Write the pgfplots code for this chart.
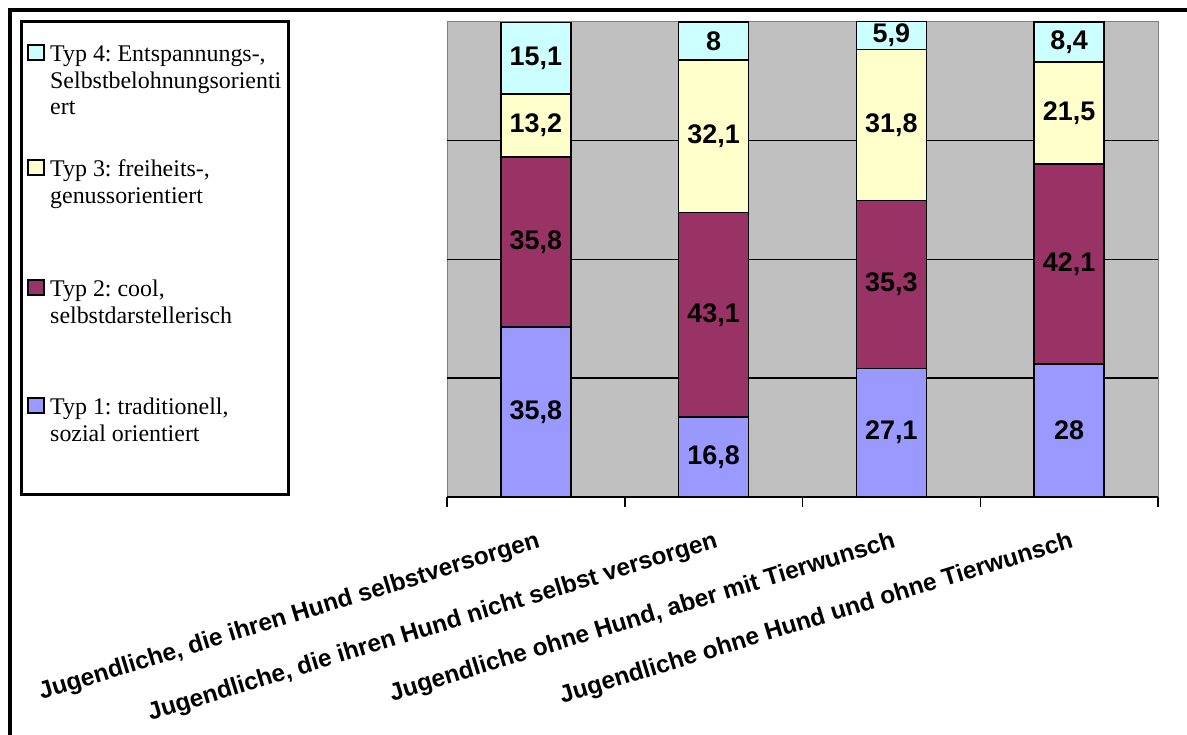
\documentclass[border=0pt]{standalone}
\usepackage{pgfplots}
\pgfplotsset{compat=1.18}
\usepackage{fontspec}
\setmainfont{Liberation Serif}
\newfontfamily\arial{Liberation Sans}
\definecolor{typA}{HTML}{9999FF}
\definecolor{typB}{HTML}{993366}
\definecolor{typC}{HTML}{FFFFCC}
\definecolor{typD}{HTML}{CCFFFF}
\definecolor{plotbg}{HTML}{C0C0C0}
\frenchspacing
\pgfplotsset{chartgeom/.style={
  at={(447bp,238bp)}, anchor=south west,
  width=711bp, height=475bp, scale only axis,
  xmin=-0.5, xmax=3.5, ymin=0, ymax=100, clip=false}}
\begin{document}
\begin{tikzpicture}[x=1bp,y=1bp]
\path[use as bounding box] (0,0) rectangle (1187,735);
\draw[line width=4bp] (10,0) -- (10,725) -- (1187,725);
% legend
\draw[line width=3bp] (21,713) rectangle (288,240);
\begin{scope}[every node/.style={anchor=base west, inner sep=0pt, font=\fontsize{24}{26.5}\selectfont}]
\filldraw[fill=typD, draw=black, line width=1.5bp] (28,675) rectangle (44,690);
\node at (50,673) {\parbox[t]{236bp}{Typ 4: Entspannungs-,\\Selbstbelohnungsorienti\\ert}};
\filldraw[fill=typC, draw=black, line width=1.5bp] (28,560) rectangle (44,575);
\node at (50,558) {\parbox[t]{236bp}{Typ 3: freiheits-,\\genussorientiert}};
\filldraw[fill=typB, draw=black, line width=1.5bp] (28,440) rectangle (44,455);
\node at (50,438) {\parbox[t]{236bp}{Typ 2: cool,\\selbstdarstellerisch}};
\filldraw[fill=typA, draw=black, line width=1.5bp] (28,322) rectangle (44,337);
\node at (50,320) {\parbox[t]{236bp}{Typ 1: traditionell,\\sozial orientiert}};
\end{scope}
\begin{axis}[
  chartgeom,
  ybar stacked, bar width=70bp,
  axis background/.style={fill=plotbg, draw=gray, line width=1bp},
  axis line style={draw=none},
  ytick={25,50,75}, yticklabels={},
  ymajorgrids, major grid style={black, line width=1.5bp},
  ytick style={draw=none},
  xtick={0,1,2,3},
  xticklabels={{Jugendliche, die ihren Hund selbstversorgen},{Jugendliche, die ihren Hund nicht selbst versorgen},{Jugendliche ohne Hund, aber mit Tierwunsch},{Jugendliche ohne Hund und ohne Tierwunsch}},
  xtick style={draw=none},
  xtick pos=left,
  xticklabel style={font=\arial\bfseries\fontsize{24.5}{24.5}\selectfont, xshift=0bp, yshift=-33bp, rotate=17, anchor=north east, inner sep=0pt},
  extra x ticks={-0.5,0.5,1.5,2.5,3.5},
  extra x tick labels={},
  extra x tick style={xtick style={draw=black, line width=1.5bp}, major tick length=10bp, tick align=outside},
]
\addplot[fill=typA, draw=black, line width=1.5bp] coordinates {(0,35.8) (1,16.8) (2,27.1) (3,28)};
\addplot[fill=typB, draw=black, line width=1.5bp] coordinates {(0,35.8) (1,43.1) (2,35.3) (3,42.1)};
\addplot[fill=typC, draw=black, line width=1.5bp] coordinates {(0,13.2) (1,32.1) (2,31.8) (3,21.5)};
\addplot[fill=typD, draw=black, line width=1.5bp] coordinates {(0,15.1) (1,8) (2,5.9) (3,8.4)};
\draw[black, line width=1.5bp] (rel axis cs:0,0) -- (rel axis cs:1,0);
\end{axis}
% value labels, centred in each segment
\begin{axis}[
  chartgeom, hide axis,
  point meta=explicit,
  nodes near coords={\pgfmathprintnumber{\pgfplotspointmeta}},
  every node near coord/.append style={font=\arial\bfseries\fontsize{27}{27}\selectfont, text=black, anchor=center, inner sep=0pt},
  /pgf/number format/.cd, use comma, fixed, precision=1, assume math mode=true,
  /pgfplots/.cd,
]
\addplot[only marks, mark=none] coordinates {(0,17.9) [35.8] (1,8.4) [16.8] (2,13.55) [27.1] (3,14) [28]};
\addplot[only marks, mark=none] coordinates {(0,53.7) [35.8] (1,38.35) [43.1] (2,44.75) [35.3] (3,49.05) [42.1]};
\addplot[only marks, mark=none] coordinates {(0,78.2) [13.2] (1,75.95) [32.1] (2,78.3) [31.8] (3,80.85) [21.5]};
\addplot[only marks, mark=none] coordinates {(0,92.35) [15.1] (1,96) [8] (2,97.15) [5.9] (3,95.8) [8.4]};
\end{axis}
\end{tikzpicture}
\end{document}
